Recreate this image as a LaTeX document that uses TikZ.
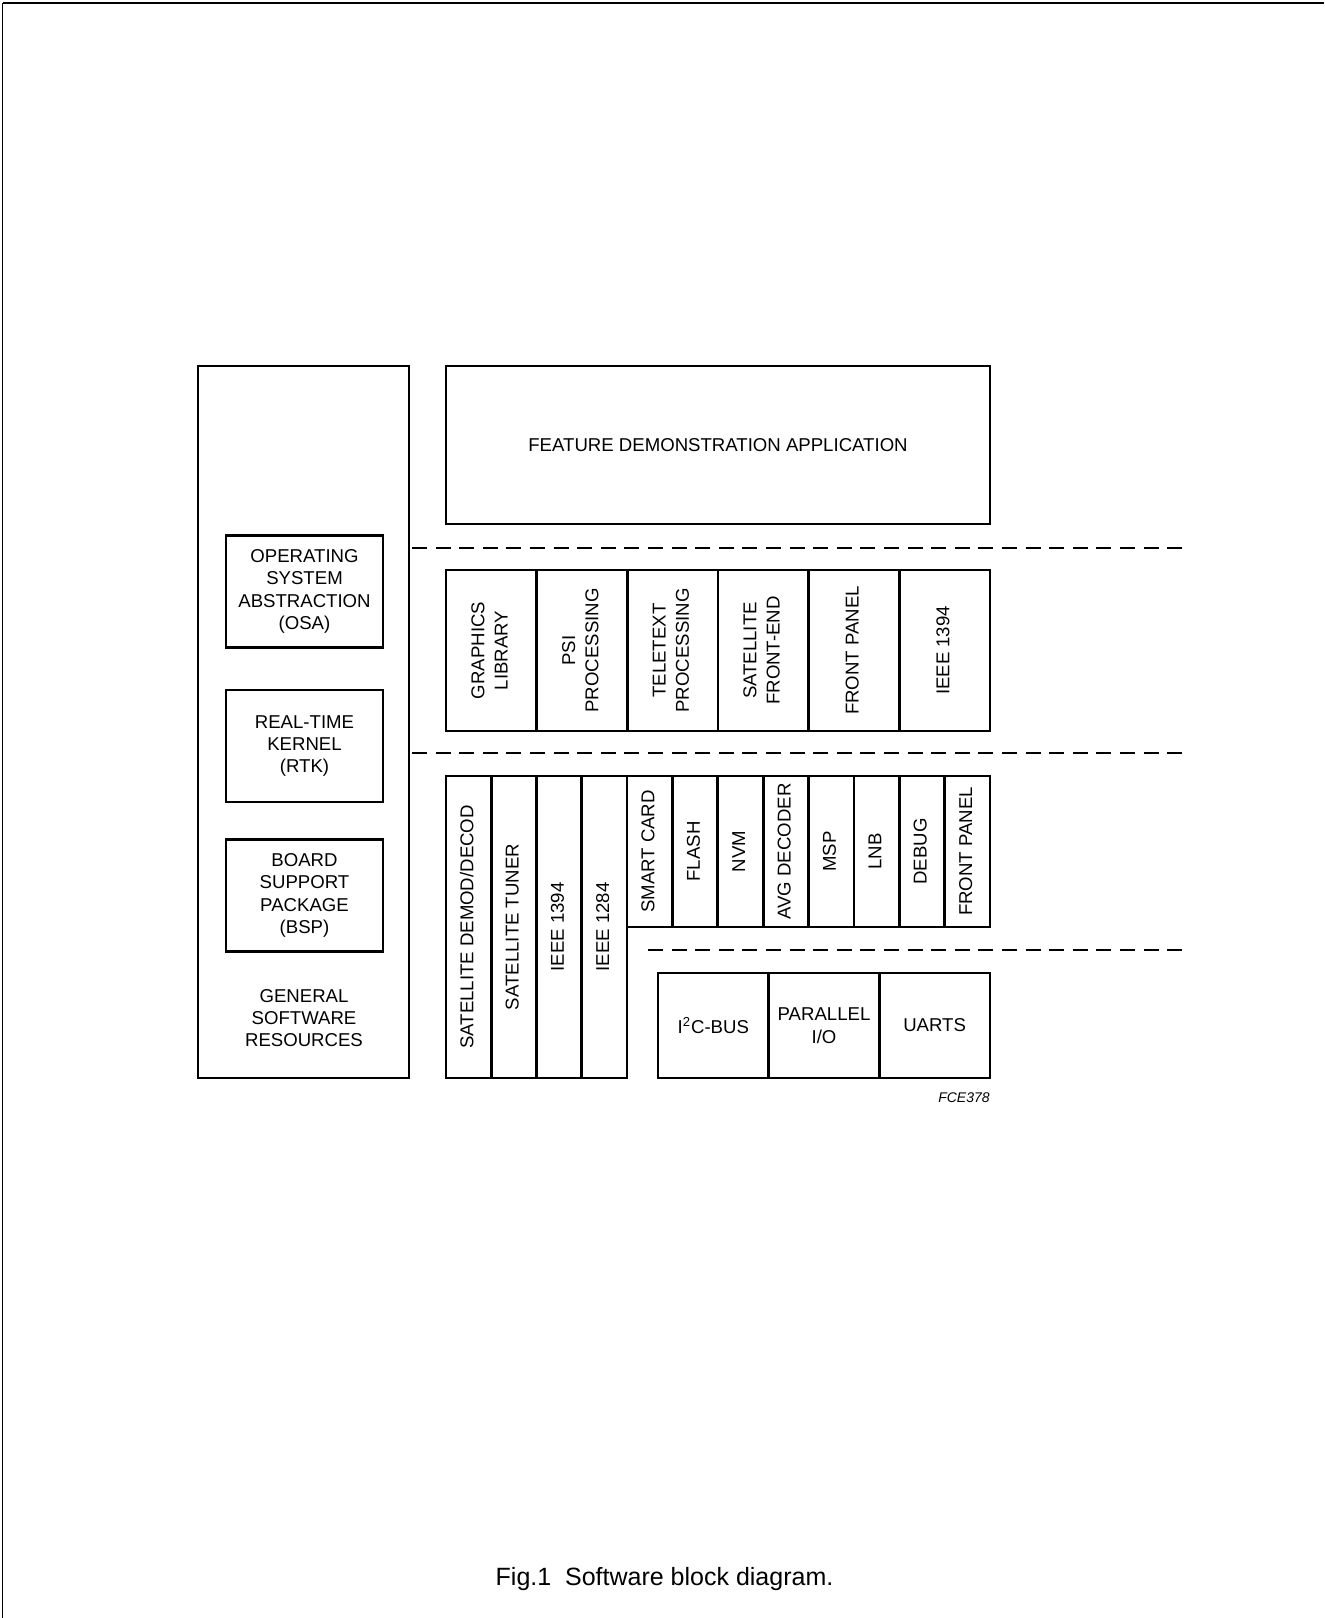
\documentclass[tikz,border=0pt]{standalone}
\usepackage{fontspec}
\setmainfont{Liberation Sans}
\usepackage{graphicx}
\usetikzlibrary{positioning}

\newcommand{\uprot}[1]{\rotatebox{90}{\def\arraystretch{1.04}\begin{tabular}{@{}c@{}}#1\end{tabular}}}

\tikzset{
  blk/.style={draw, line width=1.35pt, inner sep=0pt, outer sep=0pt, align=center, font=\fontsize{9.3}{11.2}\selectfont},
  midcol/.style={blk, minimum width=45.33pt, minimum height=80.5pt},
  tallcol/.style={blk, minimum width=22.63pt, minimum height=151pt},
  smallcol/.style={blk, minimum width=22.69pt, minimum height=75.5pt},
  iocol/.style={blk, minimum width=55.33pt, minimum height=52.5pt},
  sysbox/.style={blk, minimum width=78.5pt, minimum height=56pt},
  layer/.style={line width=1pt, dash pattern=on 7.5pt off 4.3pt}
}

\begin{document}
\begin{tikzpicture}[x=0.5pt, y=-0.5pt]
\useasboundingbox (0,0) rectangle (1324,1618);
\draw [line width=0.6pt] (2.5,1618) -- (2.5,3);
\draw [line width=1.1pt] (2.5,3) -- (1324,3);

\node (gsr) [blk, minimum width=105.5pt, minimum height=356pt] at (303.5,722) {};
\node (gsrtext) [align=center, inner sep=0pt, font=\fontsize{9.3}{11.2}\selectfont] at (304,1018) {GENERAL\\SOFTWARE\\RESOURCES};

\node (osa) [sysbox] at (304.5,591.5) {OPERATING\\SYSTEM\\ABSTRACTION\\(OSA)};
\node (rtk) [sysbox] at (304.5,746) {REAL-TIME\\KERNEL\\(RTK)};
\node (bsp) [sysbox] at (304.5,895.5) {BOARD\\SUPPORT\\PACKAGE\\(BSP)};

\node (fda) [blk, minimum width=272pt, minimum height=79pt] at (718,445) {FEATURE DEMONSTRATION APPLICATION};

\node (gfx) [midcol, anchor=west] at (446,650.5) {\uprot{GRAPHICS\\LIBRARY}};
\node (psi) [midcol, right=0pt of gfx] {\uprot{PSI\\PROCESSING}};
\node (ttx) [midcol, right=0pt of psi] {\uprot{TELETEXT\\PROCESSING}};
\node (sfe) [midcol, right=0pt of ttx] {\uprot{SATELLITE\\FRONT-END}};
\node (fpm) [midcol, right=0pt of sfe] {\uprot{FRONT PANEL}};
\node (fwm) [midcol, right=0pt of fpm] {\uprot{IEEE 1394}};

\node (demod) [tallcol, anchor=north west] at (446,776) {\uprot{SATELLITE DEMOD/DECOD}};
\node (tuner) [tallcol, right=0pt of demod] {\uprot{SATELLITE TUNER}};
\node (fwd) [tallcol, right=0pt of tuner] {\uprot{IEEE 1394}};
\node (ppd) [tallcol, right=0pt of fwd] {\uprot{IEEE 1284}};

\node (smc) [smallcol, anchor=north west] at (ppd.north east) {\uprot{SMART CARD}};
\node (flash) [smallcol, right=0pt of smc] {\uprot{FLASH}};
\node (nvm) [smallcol, right=0pt of flash] {\uprot{NVM}};
\node (avg) [smallcol, right=0pt of nvm] {\uprot{AVG DECODER}};
\node (msp) [smallcol, right=0pt of avg] {\uprot{MSP}};
\node (lnb) [smallcol, right=0pt of msp] {\uprot{LNB}};
\node (dbg) [smallcol, right=0pt of lnb] {\uprot{DEBUG}};
\node (fpd) [smallcol, right=0pt of dbg] {\uprot{FRONT PANEL}};

\node (i2c) [iocol, anchor=south west] at (658,1078) {I\textsuperscript{2}C-BUS};
\node (pio) [iocol, right=0pt of i2c] {PARALLEL\\I/O};
\node (uart) [iocol, right=0pt of pio] {UARTS};

\draw [layer] (412,548) -- (1183,548);
\draw [layer] (412,753) -- (1183,753);
\draw [layer] (648,950) -- (1183,950);

\node (code) [anchor=east, inner sep=0pt, font=\fontsize{7}{8}\itshape] at (990,1098) {FCE378};
\node (caption) [anchor=base, inner sep=0pt, font=\fontsize{12.5}{15}\selectfont] at (664.5,1585) {Fig.1\ \ Software block diagram.};
\end{tikzpicture}
\end{document}
